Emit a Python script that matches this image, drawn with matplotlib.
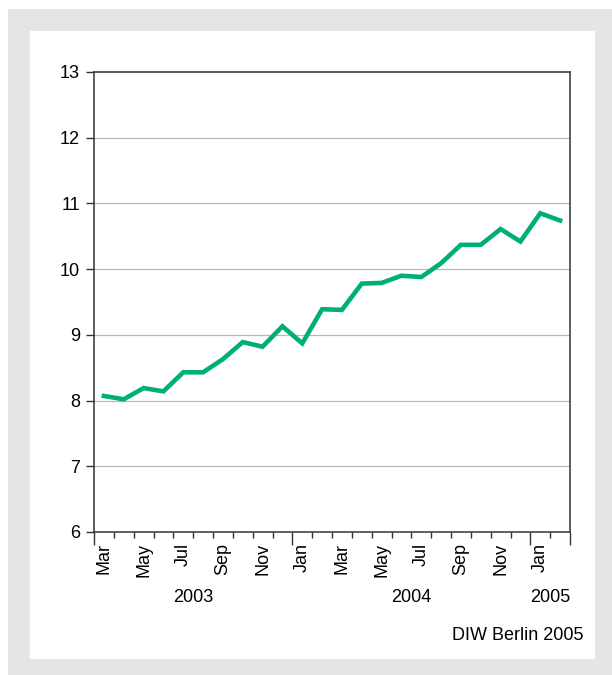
import matplotlib
matplotlib.use("Agg")
import matplotlib.pyplot as plt
from matplotlib.patches import Rectangle
from matplotlib.transforms import blended_transform_factory

plt.rcParams['font.family'] = ['Liberation Sans', 'DejaVu Sans']

# Data: monthly values Mar 2003 .. Feb 2005
months = ["Mar", "Apr", "May", "Jun", "Jul", "Aug", "Sep", "Oct", "Nov", "Dec",
          "Jan", "Feb", "Mar", "Apr", "May", "Jun", "Jul", "Aug", "Sep", "Oct",
          "Nov", "Dec", "Jan", "Feb"]
values = [8.07, 8.02, 8.19, 8.14, 8.43, 8.43, 8.63, 8.89, 8.82, 9.13,
          8.87, 9.39, 9.38, 9.78, 9.79, 9.90, 9.88, 10.09, 10.37, 10.37,
          10.61, 10.42, 10.85, 10.74]
years = ["2003", "2004", "2005"]
year_spans = [(0, 10), (10, 22), (22, 24)]
yticks = [6, 7, 8, 9, 10, 11, 12, 13]
source = "DIW Berlin 2005"

FS = 13
W, H = 612, 675
fig = plt.figure(figsize=(W / 100, H / 100), dpi=100)
fig.patch.set_facecolor("white")

# gray frame + white panel
fig.patches.append(Rectangle((8 / W, 0), (W - 8) / W, (H - 9) / H,
                             transform=fig.transFigure, facecolor="#e5e5e5",
                             edgecolor="none", zorder=-10))
fig.patches.append(Rectangle((30 / W, (H - 659) / H), (595 - 30) / W, (659 - 31) / H,
                             transform=fig.transFigure, facecolor="white",
                             edgecolor="none", zorder=-9))

left, right, top, bottom = 94, 570, 72, 532
ax = fig.add_axes([left / W, (H - bottom) / H, (right - left) / W, (bottom - top) / H])
ax.set_facecolor("white")

n = len(values)
xs = [i + 0.5 for i in range(n)]
ax.plot(xs, values, color="#00ae78", lw=3.3, solid_joinstyle="miter", zorder=3)

ax.set_xlim(0, n)
ax.set_ylim(6, 13)

# y axis
ax.set_yticks(yticks)
ax.set_yticklabels([str(v) for v in yticks], fontsize=FS)
ax.tick_params(axis="y", direction="out", length=5.5, width=1.0, color="#333333", pad=4.5)
for v in yticks[1:-1]:
    ax.axhline(v, color="#b8b8b8", lw=0.9, zorder=1)

# x axis: long ticks at year boundaries, short ticks at month boundaries
bounds = sorted({s for s, e in year_spans} | {e for s, e in year_spans})
ax.set_xticks(bounds)
ax.set_xticks([i for i in range(n + 1) if i not in bounds], minor=True)
ax.set_xticklabels([])
ax.tick_params(axis="x", which="major", direction="out", length=9, width=1.0, color="#333333")
ax.tick_params(axis="x", which="minor", direction="out", length=4.5, width=1.0, color="#333333")

tr = blended_transform_factory(ax.transData, ax.transAxes)
for i in range(0, n, 2):
    ax.text(xs[i], -11 / (bottom - top), months[i], rotation=90, ha="center", va="top",
            fontsize=FS, transform=tr)
for yr, (s, e) in zip(years, year_spans):
    ax.text((s + e) / 2, -(598 - bottom) / (bottom - top), yr, ha="center", va="center",
            fontsize=FS, transform=tr)

for sp in ax.spines.values():
    sp.set_color("#333333")
    sp.set_linewidth(1.1)

fig.text(583 / W, (H - 636) / H, source, ha="right", va="center", fontsize=FS)

fig.savefig("out.png", dpi=100)
